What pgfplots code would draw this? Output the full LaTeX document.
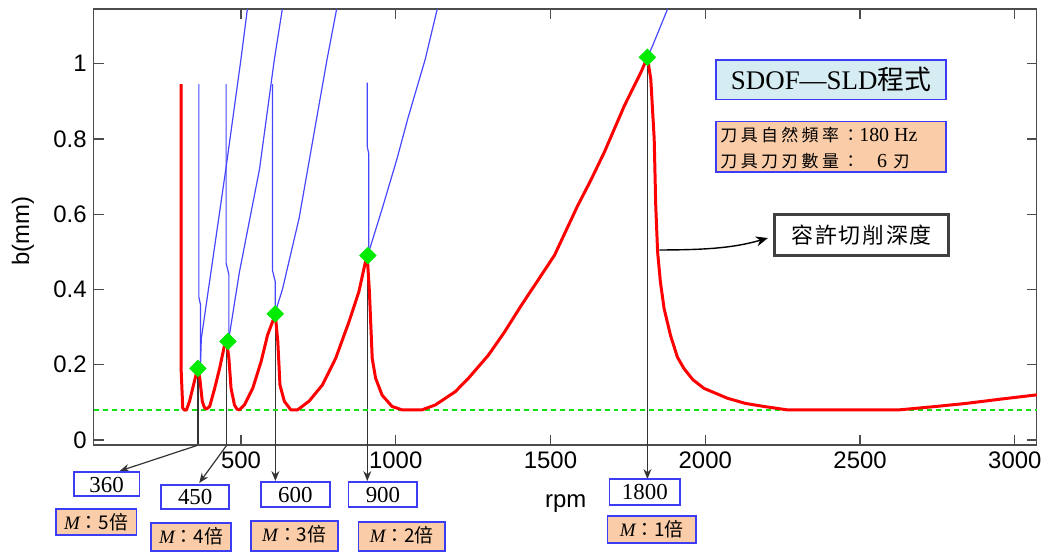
\documentclass[border=0pt]{standalone}
\usepackage{fontspec}
\setmainfont{Liberation Sans}
\newfontfamily\serif{Liberation Serif}
\newfontfamily\cjk{Noto Sans CJK TC}
\usepackage{pgfplots}
\pgfplotsset{compat=1.18}
\usetikzlibrary{arrows.meta}

\definecolor{lobered}{RGB}{255,0,0}
\definecolor{lobeblue}{RGB}{70,70,255}
\definecolor{peakgreen}{RGB}{0,235,0}
\definecolor{limitgreen}{RGB}{20,225,20}
\definecolor{boxblue}{RGB}{60,60,245}
\definecolor{fillblue}{RGB}{214,236,243}
\definecolor{fillpeach}{RGB}{250,204,168}

\tikzset{
  annot/.style={black!80, line width=0.6bp},
  tip/.style={-{Stealth[length=5bp,width=4bp]}},
  numbox/.style={draw=boxblue, line width=0.9bp, fill=white},
  mbox/.style={draw=boxblue, line width=0.9bp, fill=fillpeach},
}

\begin{document}
\begin{tikzpicture}
% pixel frame of the reference: (0,0) top left, (1048,547) bottom right
\begin{scope}[shift={(-47bp,223.5bp)}, x=0.5bp, y=-0.5bp]
\useasboundingbox (0,0) rectangle (1048,547);
\draw[annot] (198.8,372) -- (198.8,447);
\draw[annot] (227.7,345) -- (227.7,447);
\draw[annot] (276.5,318) -- (276.5,447);
\draw[annot] (368.8,260) -- (368.8,447);
\draw[annot] (650.1,60) -- (650.1,447);
\end{scope}

\begin{axis}[
  scale only axis,
  width=473.5bp, height=218.9bp,
  xmin=24, xmax=3071,
  ymin=-0.014, ymax=1.145,
  xtick={500,1000,1500,2000,2500,3000},
  ytick={0,0.2,0.4,0.6,0.8,1},
  tick align=inside,
  major tick length=5bp,
  axis line style={black!70, line width=0.7bp},
  every tick/.style={black!70, line width=0.6bp},
  ticklabel style={font=\fontsize{12bp}{14bp}\selectfont},
  /pgf/number format/assume math mode=true,
  /pgf/number format/1000 sep={},
]
% limit line
\addplot[color=limitgreen, draw=limitgreen, line width=0.8bp, dash pattern=on 2.5bp off 2bp] coordinates {(24,0.08) (3071,0.08)};

% lobes above the envelope
\addplot[lobeblue, line width=0.6bp] coordinates {(364,0.946) (364,0.38) (369,0.36) (369,0.20)};
\addplot[lobeblue, line width=0.6bp] coordinates {(452,0.946) (452,0.47) (461,0.44) (461,0.27)};
\addplot[lobeblue, line width=0.6bp] coordinates {(602,0.946) (602,0.45) (611,0.42) (611,0.34)};
\addplot[lobeblue, line width=0.6bp] coordinates {(908,0.95) (908,0.78) (913,0.76) (913,0.50)};
\addplot[lobeblue, line width=0.6bp] coordinates {(369,0.20) (372,0.27) (409,0.48) (452,0.725) (500,1.012) (521,1.147) (528,1.19)};
\addplot[lobeblue, line width=0.6bp] coordinates {(461,0.27) (495,0.446) (560,0.72) (608,1.012) (634,1.147) (642,1.19)};
\addplot[lobeblue, line width=0.6bp] coordinates {(611,0.34) (634,0.40) (688,0.59) (745,0.857) (778,1.011) (809,1.145) (818,1.19)};
\addplot[lobeblue, line width=0.6bp] coordinates {(913,0.50) (956,0.614) (1004,0.747) (1040,0.857) (1095,1.011) (1134,1.145) (1145,1.19)};
\addplot[lobeblue, line width=0.6bp] coordinates {(1813,1.017) (1830,1.048) (1878,1.145) (1890,1.17)};

% stability limit (envelope)
\addplot[lobered, line width=1.5bp, line join=round] coordinates {
(307,0.946) (307,0.181) (312,0.084) (318,0.079) (324,0.080) (334,0.103)
(344,0.137) (356,0.177) (361,0.186) (367,0.164) (375,0.103) (382,0.086)
(388,0.082) (399,0.089) (415,0.137) (431,0.190) (447,0.252) (454,0.261)
(461,0.217) (468,0.137) (479,0.093) (487,0.082) (495,0.080) (511,0.093)
(538,0.137) (565,0.208) (586,0.279) (602,0.314) (611,0.332) (619,0.262)
(626,0.146) (640,0.103) (661,0.080) (683,0.080) (720,0.103) (763,0.146)
(806,0.217) (849,0.314) (881,0.394) (902,0.473) (908,0.487) (915,0.394)
(924,0.217) (935,0.164) (956,0.119) (988,0.089) (1020,0.080) (1085,0.080)
(1128,0.093) (1192,0.128) (1235,0.164) (1299,0.225) (1350,0.285) (1406,0.358)
(1460,0.425) (1513,0.491) (1588,0.623) (1630,0.690) (1674,0.765) (1739,0.889)
(1792,0.977) (1813,1.017) (1824,0.959)
(1835,0.800) (1840,0.623) (1846,0.500) (1855,0.420) (1867,0.349) (1888,0.277)
(1910,0.220) (1931,0.190) (1960,0.160) (1996,0.137) (2071,0.111) (2130,0.097)
(2189,0.089) (2264,0.080) (2628,0.080) (2746,0.089) (2842,0.097) (2960,0.109)
(3073,0.120)};

% lobe peaks
\addplot[only marks, mark=square*, mark size=2.9bp, mark options={rotate=45, fill=peakgreen, draw=peakgreen}] coordinates {
(361,0.19) (458,0.262) (611,0.335) (910,0.49) (1813,1.017)};
\end{axis}

\begin{scope}[shift={(-47bp,223.5bp)}, x=0.5bp, y=-0.5bp]
% axis titles
\node[rotate=90, font=\fontsize{12bp}{14bp}\selectfont] at (23,232) {b(mm)};
\node[font=\fontsize{12bp}{14bp}\selectfont] at (568,506) {rpm};

% pointers from the peaks to the speed labels
\draw[annot, tip] (198.8,447) -- (120,473);
\draw[annot, tip] (227.7,447) -- (200,485);
\draw[annot, tip] (276.5,446) -- (276.5,483);
\draw[annot, tip] (368.8,446) -- (368.8,483);
\draw[annot, tip] (650.1,446) -- (650.1,481);

\begin{scope}[every node/.style={font=\fontsize{11.5bp}{13bp}\selectfont\serif}]
\draw[numbox] (74,474) rectangle (140,498);   \node at (107,486.5) {360};
\draw[numbox] (162,487) rectangle (230,511);  \node at (196,499.5) {450};
\draw[numbox] (262,484) rectangle (331,509);  \node at (296.5,497) {600};
\draw[numbox] (350,484) rectangle (419,509);  \node at (384.5,497) {900};
\draw[numbox] (612,481) rectangle (683,507);  \node at (647.5,494.5) {1800};
\end{scope}

\begin{scope}[every node/.style={font=\fontsize{9.5bp}{11bp}\selectfont}]
\draw[mbox] (56,511) rectangle (137,537);   \node at (96.5,524) {{\serif\itshape M}{\cjk ：5倍}};
\draw[mbox] (152,525) rectangle (232,553);  \node at (192,538.5) {{\serif\itshape M}{\cjk ：4倍}};
\draw[mbox] (252,523) rectangle (339,553);  \node at (295.5,536.5) {{\serif\itshape M}{\cjk ：3倍}};
\draw[mbox] (360,524) rectangle (447,553);  \node at (403.5,537.5) {{\serif\itshape M}{\cjk ：2倍}};
\draw[mbox] (610,518) rectangle (699,545);  \node at (654.5,531.5) {{\serif\itshape M}{\cjk ：1倍}};
\end{scope}

% method and tool boxes
\draw[draw=boxblue, line width=0.9bp, fill=fillblue] (719,60) rectangle (950,100);
\node[font=\fontsize{13.5bp}{15bp}\selectfont] at (834.5,80) {{\serif SDOF—SLD}{\cjk 程式}};
\draw[draw=boxblue, line width=0.9bp, fill=fillpeach] (719,122) rectangle (950,173);
\node[anchor=west, inner sep=0pt, font=\fontsize{8.5bp}{10bp}\selectfont] at (723,136)
  {{\cjk\addfontfeatures{LetterSpace=20}刀具自然頻率：}{\serif\fontsize{10bp}{12bp}\selectfont 180 Hz}};
\node[anchor=west, inner sep=0pt, font=\fontsize{8.5bp}{10bp}\selectfont] at (723,162)
  {{\cjk\addfontfeatures{LetterSpace=20}刀具刀刃數量：}\hspace{9bp}{\serif\fontsize{10bp}{12bp}\selectfont 6}\hspace{3bp}{\cjk 刃}};

% allowed depth of cut
\draw[black!75, line width=1.5bp, fill=white] (778,215) rectangle (952,257);
\node[font=\fontsize{11bp}{13bp}\selectfont] at (865,236) {{\cjk\addfontfeatures{LetterSpace=8}容許切削深度}};
\draw[black, line width=0.7bp, -{Stealth[length=6bp,width=5bp]}] (662,251) .. controls (715,251) and (740,248) .. (771,239);
\end{scope}
\end{tikzpicture}
\end{document}
